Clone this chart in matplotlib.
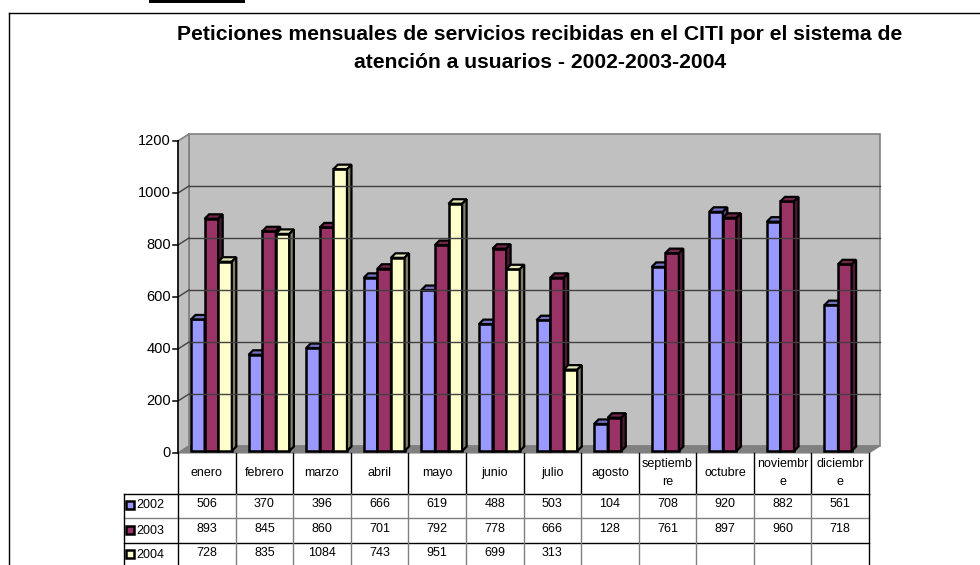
import matplotlib.pyplot as plt
from matplotlib.patches import Polygon, Rectangle
from matplotlib.lines import Line2D
from matplotlib.transforms import blended_transform_factory

plt.rcParams['font.family'] = ['Liberation Sans', 'DejaVu Sans']

months = ['enero', 'febrero', 'marzo', 'abril', 'mayo', 'junio', 'julio', 'agosto',
          'septiemb\nre', 'octubre', 'noviembr\ne', 'diciembr\ne']
years = ['2002', '2003', '2004']
v2002 = [506, 370, 396, 666, 619, 488, 503, 104, 708, 920, 882, 561]
v2003 = [893, 845, 860, 701, 792, 778, 666, 128, 761, 897, 960, 718]
v2004 = [728, 835, 1084, 743, 951, 699, 313, None, None, None, None, None]
yticks = [0, 200, 400, 600, 800, 1000, 1200]

series = [v2002, v2003, v2004]
front_col = ['#9999FF', '#993366', '#FFFFCC']
top_col = ['#7373c0', '#732649', '#e6e6b8']
side_col = ['#4d4d80', '#4d1a33', '#808066']

W, H = 980, 565
fig = plt.figure(figsize=(W / 100, H / 100), dpi=100)


def fy(y):
    return 1 - y / H


def fx(x):
    return x / W


# plot area in pixels: x 178..869 (12 categories), y 453 (0) .. 141 (1200)
ax = fig.add_axes([fx(178), fy(453), fx(869 - 178), (453 - 141) / H])
ax.set_xlim(0, 12)
ax.set_ylim(0, 1200)
ax.axis('off')

sx = (869 - 178) / 12.0   # px per category
sy = (453 - 141) / 1200.0  # px per unit
dxw, dyw = 11 / sx, 7 / sy  # wall depth

# walls and floor
ax.add_patch(Polygon([(dxw, dyw), (12 + dxw, dyw), (12 + dxw, 1200 + dyw), (dxw, 1200 + dyw)],
                     closed=True, fc='#C0C0C0', ec='#808080', lw=1.2, clip_on=False))
ax.add_patch(Polygon([(0, 0), (dxw, dyw), (dxw, 1200 + dyw), (0, 1200)],
                     closed=True, fc='#C0C0C0', ec='#808080', lw=1.2, clip_on=False))
ax.add_patch(Polygon([(0, 0), (12, 0), (12 + dxw, dyw), (dxw, dyw)],
                     closed=True, fc='#808080', ec='#808080', lw=0.8, clip_on=False))

# gridlines
for t in yticks[1:-1]:
    ax.plot([dxw, 12 + dxw], [t + dyw, t + dyw], color='#404040', lw=1, clip_on=False)
    ax.plot([0, dxw], [t, t + dyw], color='#404040', lw=1, clip_on=False)

# value axis
ax.plot([0, 0], [0, 1200], color='black', lw=1.1, clip_on=False)
for t in yticks:
    ax.plot([-5 / sx, 0], [t, t], color='black', lw=1.1, clip_on=False)
    ax.text(-7 / sx, t, str(t), ha='right', va='center', fontsize=10.5)

# 3d columns
off, bw = 13 / sx, 13.6 / sx
sh = 2 / sy
ddx, ddy = 4.5 / sx, 4.5 / sy
for m in range(12):
    for i, vals in enumerate(series):
        v = vals[m]
        if v is None:
            continue
        x0 = m + off + i * bw
        ax.add_patch(Rectangle((x0, sh), bw, v, fc=front_col[i], ec='black', lw=1.8, clip_on=False))
        ax.add_patch(Polygon([(x0, v + sh), (x0 + bw, v + sh), (x0 + bw + ddx, v + sh + ddy),
                              (x0 + ddx, v + sh + ddy)], closed=True, fc=top_col[i], ec='black',
                             lw=1.6, clip_on=False))
        ax.add_patch(Polygon([(x0 + bw, sh), (x0 + bw + ddx, sh + ddy), (x0 + bw + ddx, v + sh + ddy),
                              (x0 + bw, v + sh)], closed=True, fc=side_col[i], ec='black',
                             lw=1.6, clip_on=False))

# data table below the plot
tr = blended_transform_factory(ax.transData, fig.transFigure)
xl = (124 - 178) / sx


def hline(x1, x2, y, c):
    ax.add_line(Line2D([x1, x2], [fy(y), fy(y)], transform=tr, color=c, lw=1, clip_on=False))


def vline(x, y1, y2, c):
    ax.add_line(Line2D([x, x], [fy(y1), fy(y2)], transform=tr, color=c, lw=1, clip_on=False))


hline(xl, 12, 494, 'black')
hline(xl, 12, 518, '#808080')
hline(xl, 12, 543, 'black')
for k in range(13):
    vline(k, 453, 494, 'black')
    vline(k, 494, 570, 'black' if k in (0, 12) else '#808080')
vline(xl, 494, 570, 'black')

for m, name in enumerate(months):
    ax.text(m + 0.5, fy(473), name, transform=tr, ha='center', va='center',
            fontsize=9, linespacing=1.6)

text_y = [504, 529, 553]
for i, vals in enumerate(series):
    y = text_y[i]
    ax.add_patch(Rectangle((fx(126), fy(y + 4.5)), 8 / W, 8 / H, transform=fig.transFigure,
                           fc=front_col[i], ec='black', lw=1.8, clip_on=False))
    fig.text(fx(136), fy(y + 1.5), years[i], ha='left', va='center', fontsize=9)
    for m, v in enumerate(vals):
        if v is not None:
            ax.text(m + 0.5, fy(y), str(v), transform=tr, ha='center', va='center', fontsize=9)

# title
fig.text(fx(540), fy(35), 'Peticiones mensuales de servicios recibidas en el CITI por el sistema de',
         ha='center', va='center', fontsize=15.2, fontweight='bold')
fig.text(fx(540), fy(62), 'atención a usuarios - 2002-2003-2004',
         ha='center', va='center', fontsize=15.2, fontweight='bold')

# outer frame and the black mark at the top
fig.add_artist(Line2D([fx(9), 1], [fy(13), fy(13)], color='black', lw=1))
fig.add_artist(Line2D([fx(9), fx(9)], [fy(13), 0], color='black', lw=1))
fig.add_artist(Rectangle((fx(149), fy(2.5)), 96 / W, 2.5 / H, fc='black', ec='none'))

fig.savefig('out.png', dpi=100)
